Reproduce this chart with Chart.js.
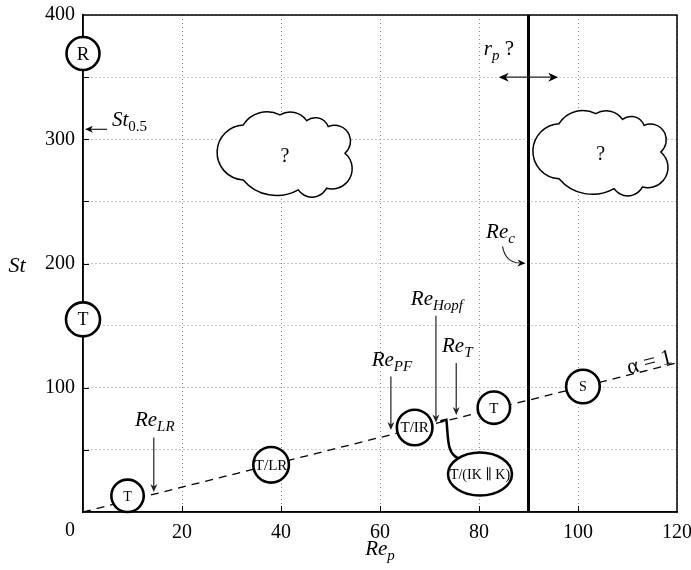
<!DOCTYPE html>
<html>
<head>
<meta charset="utf-8">
<script src="https://cdn.jsdelivr.net/npm/chart.js@4.4.0/dist/chart.umd.min.js"></script>
<style>
  html, body { margin: 0; padding: 0; background: #fff; }
  #wrap { width: 691px; height: 570px; }
</style>
</head>
<body>
<div id="wrap"><canvas id="c" width="691" height="570"></canvas></div>
<script>
// Flow regimes (circled labels) in the (Re_p, St) plane
const regimeNames = ['R', 'T', 'T', 'T/LR', 'T/IR', 'T', 'S'];
const regimeRe = [0, 0, 9, 38, 67, 83, 101];
const regimeSt = [369, 155, 13, 38, 68, 84, 101];

// Regime drawn in an ellipse, linked to the alpha = 1 line
const ellipseName = 'T/(IK \u2225 K)';
const ellipseRe = [80.2];
const ellipseSt = [30.5];
const linkRe = [72.2];
const linkSt = [73];

// Critical Reynolds numbers marked by vertical arrows
const criticalMain = ['Re', 'Re', 'Re', 'Re'];
const criticalSub = ['LR', 'PF', 'Hopf', 'T'];
const criticalRe = [14.3, 62.2, 71.3, 75.4];
const criticalStFrom = [60, 109, 158, 120];
const criticalStTo = [16, 66, 72, 78];

// Critical Re_c (vertical line) and the Strouhal number St_0.5
const reC = [90];
const reCArrowSt = [200];
const st05 = [308];

// r_p ? double arrow
const rpRe = [84, 96];
const rpSt = [350];

// Unknown regions (clouds)
const cloudRe = [40.8, 104.6];
const cloudSt = [287, 288];

// alpha = 1 line
const alphaRe = [0, 120];
const alphaSt = [0, 120];
const alphaLabelRe = [114.8];

// Axes
const xTicks = [0, 20, 40, 60, 80, 100, 120];
const yTicks = [100, 200, 300, 400];

const SERIF = '"Liberation Serif", "DejaVu Serif", "Times New Roman", serif';

function drawRich(ctx, parts, x, y, align) {
  const widths = parts.map(p => {
    ctx.font = (p.italic ? 'italic ' : '') + p.size + 'px ' + SERIF;
    return ctx.measureText(p.t).width;
  });
  const total = widths.reduce((a, b) => a + b, 0);
  let cx = align === 'center' ? x - total / 2 : (align === 'right' ? x - total : x);
  ctx.textBaseline = 'alphabetic';
  ctx.textAlign = 'left';
  parts.forEach((p, i) => {
    ctx.font = (p.italic ? 'italic ' : '') + p.size + 'px ' + SERIF;
    ctx.fillText(p.t, cx, y + (p.sub ? 5 : 0));
    cx += widths[i];
  });
}

function reLabel(main, sub) {
  return [{ t: main, italic: true, size: 21 }, { t: sub, italic: true, sub: true, size: 15 }];
}

function arrowHead(ctx, x, y, ang, len, half) {
  len = len || 9; half = half || 4;
  ctx.save();
  ctx.translate(x, y);
  ctx.rotate(ang);
  ctx.beginPath();
  ctx.moveTo(0, 0);
  ctx.lineTo(-len, -half);
  ctx.lineTo(-len * 0.7, 0);
  ctx.lineTo(-len, half);
  ctx.closePath();
  ctx.fill();
  ctx.restore();
}

// cloud outline: cusp points (offsets from the centre) joined by outward arcs;
// k sets how far each arc's centre sits inside its chord (0 = half circle)
const cloudCusps = [[-41.7, -30.5], [-5, -40.5], [21.7, -34.8], [43.3, -28.8],
  [60, -2.2], [41.7, 32.8], [13.3, 34.5], [-41.7, 24.5]];
const cloudBulge = [1.09, 1.05, 0.75, 0.15, 0.22, 0.6, 1.2, 0.05];

function drawCloud(ctx, cx, cy) {
  const n = cloudCusps.length;
  ctx.beginPath();
  for (let i = 0; i < n; i++) {
    const p1 = { x: cx + cloudCusps[i][0], y: cy + cloudCusps[i][1] };
    const q = cloudCusps[(i + 1) % n];
    const p2 = { x: cx + q[0], y: cy + q[1] };
    const dx = p2.x - p1.x, dy = p2.y - p1.y;
    const len = Math.hypot(dx, dy);
    const h = len / 2;
    const nx = -dy / len, ny = dx / len; // inward normal
    const c = { x: (p1.x + p2.x) / 2 + nx * h * cloudBulge[i], y: (p1.y + p2.y) / 2 + ny * h * cloudBulge[i] };
    const r = Math.hypot(p1.x - c.x, p1.y - c.y);
    const a1 = Math.atan2(p1.y - c.y, p1.x - c.x);
    const a2 = Math.atan2(p2.y - c.y, p2.x - c.x);
    ctx.arc(c.x, c.y, r, a1, a2, false);
  }
  ctx.closePath();
  ctx.fillStyle = '#fff';
  ctx.fill();
  ctx.lineWidth = 1.5;
  ctx.strokeStyle = '#000';
  ctx.stroke();
}

const underlay = {
  id: 'underlay',
  beforeDatasetsDraw(chart) {
    const { ctx, chartArea: ca, scales: { x, y } } = chart;
    ctx.save();
    // frame
    ctx.strokeStyle = '#000';
    ctx.lineWidth = 1.5;
    ctx.strokeRect(ca.left, ca.top, ca.right - ca.left, ca.bottom - ca.top);
    // short inward tick marks
    ctx.lineWidth = 1;
    ctx.beginPath();
    for (let v = 50; v < 400; v += 50) {
      const py = Math.round(y.getPixelForValue(v)) + 0.5;
      ctx.moveTo(ca.left, py); ctx.lineTo(ca.left + 6, py);
    }
    for (let v = 20; v < 120; v += 20) {
      const px = Math.round(x.getPixelForValue(v)) + 0.5;
      ctx.moveTo(px, ca.bottom); ctx.lineTo(px, ca.bottom - 6);
    }
    ctx.stroke();
    // clouds
    cloudRe.forEach((re, i) => {
      const cx = x.getPixelForValue(re), cy = y.getPixelForValue(cloudSt[i]);
      drawCloud(ctx, cx, cy);
      ctx.fillStyle = '#000';
      ctx.font = '20px ' + SERIF;
      ctx.textAlign = 'center';
      ctx.textBaseline = 'middle';
      ctx.fillText('?', cx, cy + 1);
    });
    ctx.restore();
  },
  afterDatasetsDraw(chart) {
    const { ctx, chartArea: ca, scales: { x, y } } = chart;
    ctx.save();
    ctx.fillStyle = '#000';
    ctx.strokeStyle = '#000';

    // labels inside circles
    const meta = chart.getDatasetMeta(0);
    const fs = [19, 18, 14, 15, 15, 15, 14];
    meta.data.forEach((pt, i) => {
      ctx.font = fs[i] + 'px ' + SERIF;
      ctx.textAlign = 'center';
      ctx.textBaseline = 'middle';
      ctx.fillText(regimeNames[i], pt.x, pt.y + 1);
    });

    // link from the alpha = 1 line to the ellipse
    const ex = x.getPixelForValue(ellipseRe[0]), ey = y.getPixelForValue(ellipseSt[0]);
    const lx = x.getPixelForValue(linkRe[0]), ly = y.getPixelForValue(linkSt[0]);
    ctx.lineWidth = 2.5;
    ctx.beginPath();
    ctx.moveTo(lx, ly);
    ctx.lineTo(lx + 6, ly - 1.5);
    ctx.bezierCurveTo(lx + 8, ly + 15, lx + 6, ly + 32, ex - 22, ey - 16);
    ctx.stroke();
    // ellipse
    ctx.beginPath();
    ctx.ellipse(ex, ey, 32, 21.5, 0, 0, Math.PI * 2);
    ctx.fillStyle = '#fff';
    ctx.fill();
    ctx.lineWidth = 2.5;
    ctx.stroke();
    ctx.fillStyle = '#000';
    ctx.font = '14px ' + SERIF;
    ctx.textAlign = 'center';
    ctx.textBaseline = 'middle';
    ctx.fillText(ellipseName, ex, ey + 1);

    // critical Reynolds number arrows
    ctx.lineWidth = 1.2;
    criticalRe.forEach((re, i) => {
      const px = x.getPixelForValue(re);
      const y0 = y.getPixelForValue(criticalStFrom[i]);
      const y1 = y.getPixelForValue(criticalStTo[i]);
      ctx.strokeStyle = '#222';
      ctx.fillStyle = '#222';
      ctx.beginPath();
      ctx.moveTo(px, y0);
      ctx.lineTo(px, y1 - 5);
      ctx.stroke();
      arrowHead(ctx, px, y1, Math.PI / 2, 8, 3.5);
      ctx.fillStyle = '#000';
      drawRich(ctx, reLabel(criticalMain[i], criticalSub[i]), px + 1, y0 - 11, 'center');
    });

    // Re_c curved arrow
    const rcx = x.getPixelForValue(reC[0]), rcy = y.getPixelForValue(reCArrowSt[0]);
    ctx.lineWidth = 1.2;
    ctx.beginPath();
    ctx.moveTo(rcx - 26, rcy - 17);
    ctx.quadraticCurveTo(rcx - 23, rcy - 1, rcx - 9, rcy - 0.5);
    ctx.stroke();
    arrowHead(ctx, rcx - 3, rcy - 0.3, 0.03, 8, 3.5);
    drawRich(ctx, reLabel('Re', 'c'), rcx - 28, rcy - 26, 'center');

    // St_0.5 arrow
    const sy = y.getPixelForValue(st05[0]);
    ctx.beginPath();
    ctx.moveTo(ca.left + 24, sy);
    ctx.lineTo(ca.left + 6, sy);
    ctx.stroke();
    arrowHead(ctx, ca.left + 2, sy, Math.PI, 8, 3.5);
    drawRich(ctx, [{ t: 'St', italic: true, size: 21 }, { t: '0.5', italic: false, sub: true, size: 15 }],
      ca.left + 29, sy - 3, 'left');

    // r_p ? double arrow
    const rx0 = x.getPixelForValue(rpRe[0]), rx1 = x.getPixelForValue(rpRe[1]);
    const ry = y.getPixelForValue(rpSt[0]);
    ctx.lineWidth = 1.4;
    ctx.beginPath();
    ctx.moveTo(rx0 + 6, ry);
    ctx.lineTo(rx1 - 6, ry);
    ctx.stroke();
    arrowHead(ctx, rx1, ry, 0, 10, 4.5);
    arrowHead(ctx, rx0, ry, Math.PI, 10, 4.5);
    drawRich(ctx, [{ t: 'r', italic: true, size: 21 }, { t: 'p', italic: true, sub: true, size: 15 },
      { t: ' ?', italic: false, size: 21 }], rx0 - 15, ry - 22, 'left');

    // alpha = 1 label along the dashed line
    const ax0 = x.getPixelForValue(alphaRe[0]), ay0 = y.getPixelForValue(alphaSt[0]);
    const ax1 = x.getPixelForValue(alphaRe[1]), ay1 = y.getPixelForValue(alphaSt[1]);
    const ang = Math.atan2(ay1 - ay0, ax1 - ax0);
    const lpx = x.getPixelForValue(alphaLabelRe[0]);
    const lpy = ay0 + (lpx - ax0) * Math.tan(ang);
    ctx.save();
    ctx.translate(lpx, lpy);
    ctx.rotate(ang);
    ctx.font = '22px ' + SERIF;
    ctx.textAlign = 'center';
    ctx.textBaseline = 'alphabetic';
    ctx.fillText('\u03b1 = 1', 0, -1);
    ctx.restore();

    // origin tick label, set to the left of the corner
    ctx.font = '20px ' + SERIF;
    ctx.textAlign = 'center';
    ctx.textBaseline = 'alphabetic';
    ctx.fillText(String(xTicks[0]), ca.left - 13, ca.bottom + 24);

    // axis titles
    drawRich(ctx, reLabel('Re', 'p'), (ca.left + ca.right) / 2, 555, 'center');
    drawRich(ctx, [{ t: 'St', italic: true, size: 22 }], 17, (ca.top + ca.bottom) / 2 + 8, 'center');
    ctx.restore();
  }
};

const gridStyle = { color: '#8c8c8c', lineWidth: 1, drawTicks: false };

new Chart(document.getElementById('c').getContext('2d'), {
  type: 'scatter',
  data: {
    datasets: [
      {
        label: 'regimes',
        data: regimeRe.map((re, i) => ({ x: re, y: regimeSt[i] })),
        pointRadius: [16.5, 17, 16.2, 17.8, 17.8, 16.2, 16.8],
        pointBackgroundColor: '#fff',
        pointBorderColor: '#000',
        pointBorderWidth: 2.6,
        pointHoverRadius: 0,
        clip: false,
        order: 0
      },
      {
        type: 'line',
        label: 'Re_c',
        data: [{ x: reC[0], y: 0 }, { x: reC[0], y: 400 }],
        borderColor: '#000',
        borderWidth: 3,
        pointRadius: 0,
        fill: false,
        order: 1
      },
      {
        type: 'line',
        label: 'alpha = 1',
        data: alphaRe.map((re, i) => ({ x: re, y: alphaSt[i] })),
        borderColor: '#000',
        borderWidth: 1.3,
        borderDash: [8, 6],
        pointRadius: 0,
        fill: false,
        order: 2
      }
    ]
  },
  options: {
    responsive: false,
    animation: false,
    devicePixelRatio: 1,
    layout: { autoPadding: false, padding: { left: 0, right: 14, top: 15, bottom: 0 } },
    plugins: { legend: { display: false }, tooltip: { enabled: false } },
    scales: {
      x: {
        type: 'linear',
        min: 0, max: 120,
        afterBuildTicks(s) { s.ticks = xTicks.map(v => ({ value: v })); },
        ticks: {
          callback: v => (v === xTicks[0] ? '' : String(v)),
          font: { family: SERIF, size: 20 },
          color: '#000',
          padding: 9,
          maxRotation: 0,
          autoSkip: false
        },
        grid: gridStyle,
        border: { display: true, color: '#000', width: 1.5, dash: [1, 3] },
        afterFit(s) { s.height = 58; s.paddingLeft = 0; s.paddingRight = 0; }
      },
      y: {
        type: 'linear',
        min: 0, max: 400,
        ticks: {
          stepSize: 50,
          callback: v => (yTicks.includes(v) ? String(v) : ''),
          font: { family: SERIF, size: 20 },
          color: '#000',
          padding: 8,
          autoSkip: false
        },
        grid: gridStyle,
        border: { display: true, color: '#000', width: 1.5, dash: [1, 3] },
        afterFit(s) { s.width = 83; s.paddingTop = 0; s.paddingBottom = 0; }
      }
    }
  },
  plugins: [underlay]
});
</script>
</body>
</html>
